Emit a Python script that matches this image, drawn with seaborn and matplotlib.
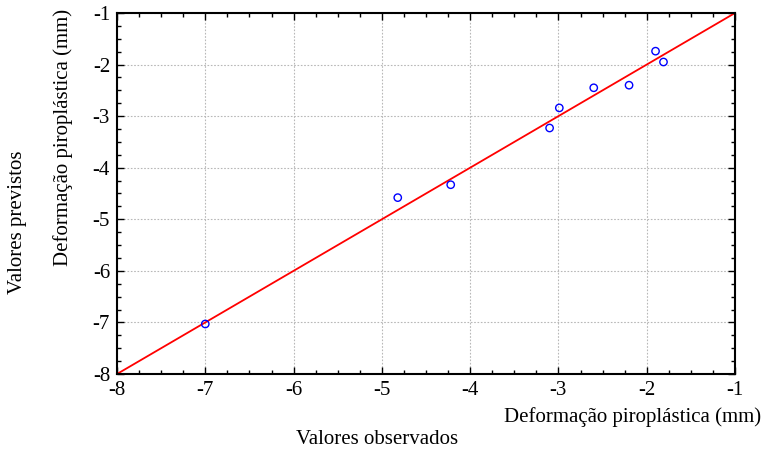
import matplotlib
matplotlib.use("Agg")
import matplotlib.pyplot as plt
import seaborn as sns
import pandas as pd
from matplotlib.ticker import MultipleLocator

observed = [-7.0, -4.82, -4.22, -3.10, -2.99, -2.60, -2.20, -1.90, -1.81]
predicted = [-7.03, -4.58, -4.33, -3.23, -2.84, -2.45, -2.40, -1.74, -1.95]
line_x = [-8, -1]
line_y = [-8, -1]

sns.set_theme(style="white")
plt.rcParams['font.family'] = ['Liberation Serif', 'DejaVu Serif']
plt.rcParams['axes.unicode_minus'] = False
plt.rcParams['text.color'] = 'black'
plt.rcParams['xtick.color'] = 'black'
plt.rcParams['ytick.color'] = 'black'

fig = plt.figure(figsize=(7.64, 4.49), dpi=100)
ax = fig.add_axes([117/764, 1-374/449, (735-117)/764, (374-13)/449])

df = pd.DataFrame({"obs": observed, "pred": predicted})
ln = pd.DataFrame({"x": line_x, "y": line_y})
sns.lineplot(data=ln, x="x", y="y", ax=ax, color="red", linewidth=1.3, zorder=2)
sns.scatterplot(data=df, x="obs", y="pred", ax=ax, marker="o", s=28,
                facecolor="none", edgecolor="blue", linewidth=1.0, zorder=3)

ax.set_xlim(-8, -1)
ax.set_ylim(-8, -1)
ax.xaxis.set_major_locator(MultipleLocator(1))
ax.yaxis.set_major_locator(MultipleLocator(1))
ax.xaxis.set_minor_locator(MultipleLocator(0.25))
ax.yaxis.set_minor_locator(MultipleLocator(0.25))
ax.tick_params(which="both", direction="in", top=True, right=True, bottom=True, left=True,
               color="black", labelcolor="black")
ax.tick_params(which="major", length=5, width=1.0, labelsize=15, pad=5)
ax.tick_params(which="minor", length=3, width=1.0)
ax.grid(True, which="major", color="#b8b8b8", linestyle=(0, (1.5, 1.5)), linewidth=0.8)
for s in ax.spines.values():
    s.set_color("black")
    s.set_linewidth(1.5)
ax.set_xlabel("")
ax.set_ylabel("")

fig.text(761/764, 1-417/449, "Deformação piroplástica (mm)", ha="right", va="center", fontsize=15)
fig.text(377/764, 1-440/449, "Valores observados", ha="center", va="center", fontsize=15)
fig.text(63/764, 1-137/449, "Deformação piroplástica (mm)", ha="center", va="center", fontsize=15, rotation=90)
fig.text(18/764, 1-222/449, "Valores previstos", ha="center", va="center", fontsize=15, rotation=90)

fig.savefig("out.png", dpi=100)
